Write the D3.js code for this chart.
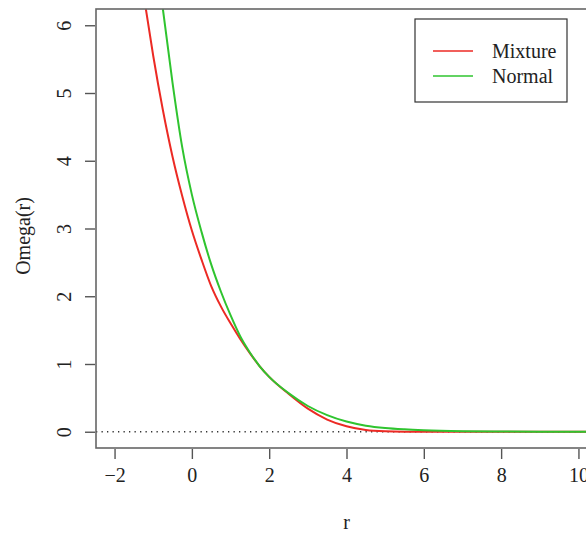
<!DOCTYPE html>
<html>
<head>
<meta charset="utf-8">
<script src="https://cdn.jsdelivr.net/npm/d3@7"></script>
<style>
  html, body { margin: 0; padding: 0; background: #fff; }
  svg { display: block; }
  text { font-family: "Liberation Serif", "DejaVu Serif", serif; fill: #222; }
</style>
</head>
<body>
<svg id="chart" width="586" height="533"></svg>
<script>
// Omega(r) for the mixture model and its normal approximation
const mixtureR     = [-1.19, -1.00, -0.75, -0.50, -0.25, 0.00, 0.25, 0.50, 0.75, 1.00, 1.25, 1.50, 1.75, 2.00, 2.50, 3.00, 3.50, 4.00, 4.50, 5.00, 5.50, 6.00, 10.50];
const mixtureOmega = [ 6.24,  5.55,  4.75,  4.06,  3.48, 2.97, 2.54, 2.15, 1.85, 1.60, 1.37, 1.16, 0.97, 0.81, 0.56, 0.34, 0.18, 0.08, 0.025, 0.006, 0.001, 0.000, 0.000];

const normalR      = [-0.75, -0.50, -0.25, 0.00, 0.25, 0.50, 0.75, 1.00, 1.25, 1.50, 1.75, 2.00, 2.50, 3.00, 3.50, 4.00, 4.50, 5.00, 5.50, 6.00, 7.00, 8.00, 9.00, 10.50];
const normalOmega  = [ 6.24,  5.15,  4.20, 3.50, 2.95, 2.47, 2.07, 1.72, 1.41, 1.17, 0.97, 0.81, 0.57, 0.38, 0.245, 0.15, 0.09, 0.055, 0.035, 0.022, 0.008, 0.003, 0.001, 0.000];

const xTicks = [-2, 0, 2, 4, 6, 8, 10];
const yTicks = [0, 1, 2, 3, 4, 5, 6];
const seriesNames = ["Mixture", "Normal"];
const seriesColors = ["#ec2a24", "#2fc42f"];

const svg = d3.select("#chart");

// plot region (R-style 4% padding around xlim = c(-2,10), ylim = c(0,6))
const plotL = 96, plotT = 9, plotB = 448, plotR = 597;
const x = d3.scaleLinear().domain([-2.48, 10.48]).range([plotL, plotR]);
const y = d3.scaleLinear().domain([-0.24, 6.24]).range([plotB, plotT]);

svg.append("defs").append("clipPath").attr("id", "plotclip")
  .append("rect").attr("x", plotL).attr("y", plotT)
  .attr("width", plotR - plotL).attr("height", plotB - plotT);

const plot = svg.append("g").attr("clip-path", "url(#plotclip)");

// reference line at zero
plot.append("line")
  .attr("x1", plotL).attr("x2", plotR)
  .attr("y1", y(0)).attr("y2", y(0))
  .attr("stroke", "#333").attr("stroke-width", 1.3)
  .attr("stroke-dasharray", "1.3,4.2");

const line = d3.line()
  .x(d => x(d[0]))
  .y(d => y(d[1]))
  .curve(d3.curveMonotoneX);

const series = [
  d3.zip(mixtureR, mixtureOmega),
  d3.zip(normalR, normalOmega)
];

series.forEach((pts, i) => {
  plot.append("path")
    .datum(pts)
    .attr("d", line)
    .attr("fill", "none")
    .attr("stroke", seriesColors[i])
    .attr("stroke-width", 2);
});

// box around plot region
svg.append("rect")
  .attr("x", plotL).attr("y", plotT)
  .attr("width", plotR - plotL).attr("height", plotB - plotT)
  .attr("fill", "none").attr("stroke", "#666").attr("stroke-width", 1.6);

// x axis
const xAxis = svg.append("g")
  .attr("transform", `translate(0,${plotB + 1})`)
  .call(d3.axisBottom(x).tickValues(xTicks).tickSize(10).tickPadding(9)
    .tickFormat(d => d < 0 ? "\u2212" + Math.abs(d) : d));
xAxis.select(".domain").remove();
xAxis.selectAll(".tick line").attr("stroke", "#555").attr("stroke-width", 1.4);
xAxis.selectAll("text")
  .style("font-family", "'Liberation Serif', serif")
  .style("font-size", "20px").attr("fill", "#222");

// y axis (labels parallel to the axis)
const yAxis = svg.append("g")
  .attr("transform", `translate(${plotL - 1},0)`)
  .call(d3.axisLeft(y).tickValues(yTicks).tickSize(10).tickFormat(d3.format("d")));
yAxis.select(".domain").remove();
yAxis.selectAll(".tick line").attr("stroke", "#555").attr("stroke-width", 1.4);
yAxis.selectAll("text")
  .attr("x", null).attr("dy", null)
  .attr("text-anchor", "middle")
  .attr("transform", "translate(-31,0) rotate(-90)")
  .attr("dy", "0.35em")
  .style("font-family", "'Liberation Serif', serif")
  .style("font-size", "20px").attr("fill", "#222");

// axis titles
svg.append("text")
  .attr("x", (plotL + plotR) / 2).attr("y", 529)
  .attr("text-anchor", "middle")
  .style("font-size", "20px")
  .text("r");

svg.append("text")
  .attr("transform", `translate(30,236) rotate(-90)`)
  .attr("text-anchor", "middle")
  .style("font-size", "20px")
  .text("Omega(r)");

// legend
const legend = svg.append("g");
legend.append("rect")
  .attr("x", 415).attr("y", 19).attr("width", 152).attr("height", 83)
  .attr("fill", "#fff").attr("stroke", "#333").attr("stroke-width", 1.2);
seriesNames.forEach((name, i) => {
  const ly = 51 + i * 25;
  legend.append("line")
    .attr("x1", 433).attr("x2", 473).attr("y1", ly).attr("y2", ly)
    .attr("stroke", seriesColors[i]).attr("stroke-width", 1.4);
  legend.append("text")
    .attr("x", 492).attr("y", ly).attr("dy", "0.35em")
    .style("font-size", "20px")
    .text(name);
});
</script>
</body>
</html>
